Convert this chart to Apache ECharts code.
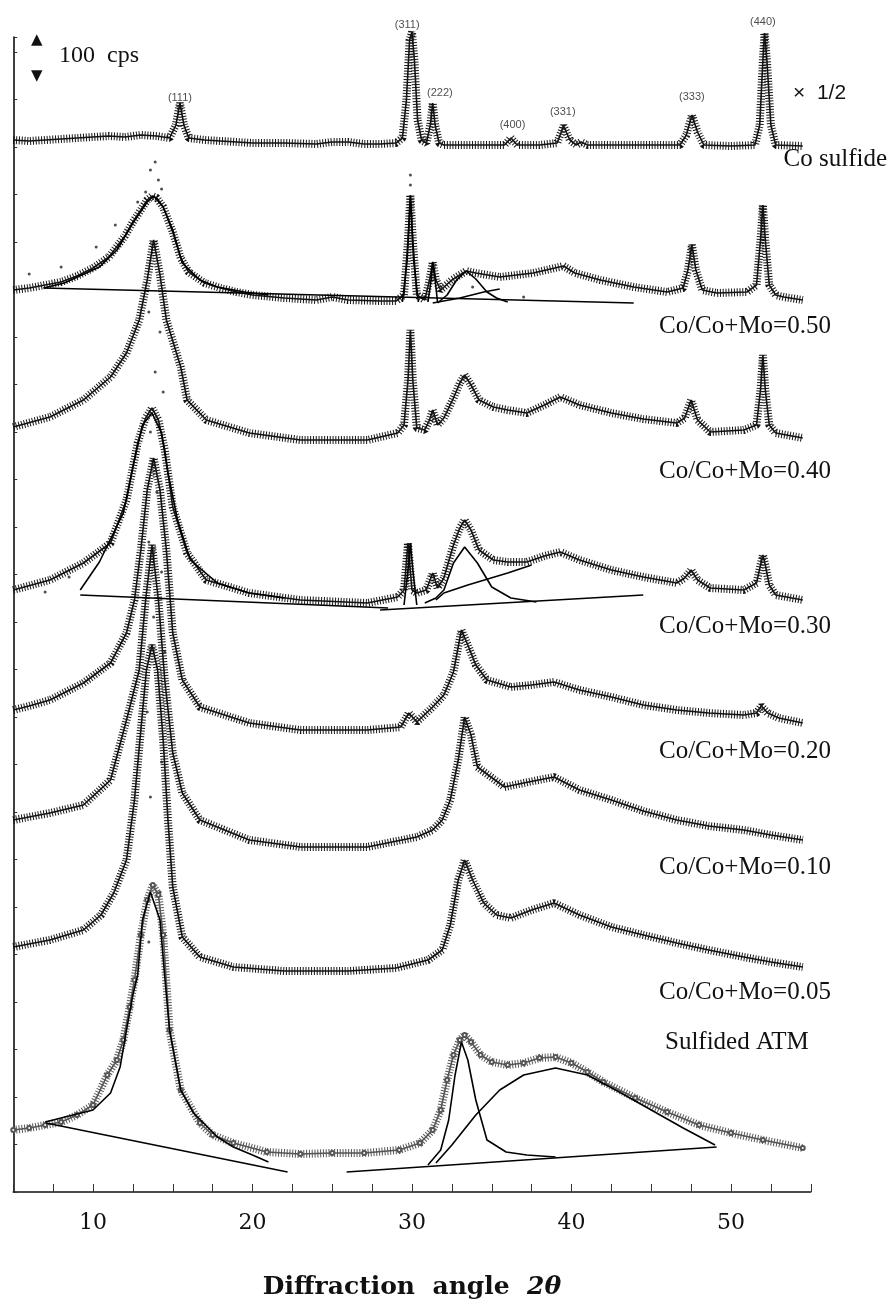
<!DOCTYPE html>
<html>
<head>
<meta charset="utf-8">
<script src="https://cdn.jsdelivr.net/npm/echarts@6/dist/echarts.min.js"></script>
<style>
  html, body { margin: 0; padding: 0; background: #fff; }
  #chart { width: 888px; height: 1302px; }
</style>
</head>
<body>
<div id="chart"></div>
<script>
// x = diffraction angle 2θ (deg), y = intensity (a.u., patterns stacked)
var coSulfide = [[5,1052],[6,1051],[7,1052],[8,1053],[9,1054],[10,1055],[11,1056],[12,1055],[13,1057],[14,1056],[14.8,1054],[15.2,1067],[15.45,1089],[15.7,1067],[16,1054],[17,1052],[18,1051],[19,1050],[20,1049],[22,1049],[24,1048],[25,1050],[26,1050],[27,1048],[28,1048],[29,1049],[29.4,1054],[29.65,1092],[29.85,1152],[30,1160],[30.15,1132],[30.35,1072],[30.6,1052],[30.9,1049],[31.15,1067],[31.3,1089],[31.45,1067],[31.7,1049],[32,1047],[34,1047],[35.8,1047],[36.2,1054],[36.6,1047],[38,1047],[39.1,1049],[39.5,1066],[39.9,1052],[40.3,1047],[40.6,1050],[41,1047],[44,1047],[46.8,1047],[47.2,1057],[47.55,1077],[47.9,1060],[48.3,1047],[50,1046],[51.5,1047],[51.8,1067],[52,1132],[52.1,1159],[52.25,1132],[52.5,1067],[52.8,1047],[54.5,1046]];

var co050 = [[5,902],[6,904],[7,907],[8,910],[9,916],[10,924],[11,935],[12,956],[12.5,970],[13,982],[13.4,992],[13.7,996],[14,994],[14.4,985],[15,960],[15.5,934],[16,920],[17,909],[18,904],[19,900],[20,897],[22,894],[24,892],[25,895],[26,892],[28,891],[29,891],[29.5,897],[29.75,952],[29.9,997],[30.05,952],[30.3,897],[30.8,892],[31.1,912],[31.3,930],[31.5,912],[31.8,902],[32.5,912],[33.4,921],[34,919],[35.5,915],[37.6,919],[39.5,926],[40.2,919],[41.8,912],[43.9,905],[46,900],[47,904],[47.3,922],[47.55,947],[47.8,922],[48.2,902],[49.1,899],[51,900],[51.6,907],[51.85,952],[52,987],[52.15,952],[52.4,907],[52.8,897],[53.3,895],[54.5,892]];

var co040 = [[5,765],[7.3,775],[9.4,792],[11.1,815],[12.1,839],[12.9,872],[13.4,912],[13.8,952],[14.2,917],[14.6,872],[15.5,825],[15.9,792],[17.1,772],[19.8,759],[23,752],[27.2,752],[29.1,759],[29.5,767],[29.75,812],[29.9,862],[30.05,812],[30.3,764],[30.8,762],[31.1,772],[31.3,782],[31.6,767],[32,774],[32.6,794],[33,809],[33.3,817],[33.7,807],[34.2,792],[35.1,785],[36,782],[37.2,779],[38.3,787],[39.3,795],[40.5,787],[42.5,779],[44.5,773],[46.6,769],[47.1,774],[47.5,792],[47.9,772],[48.7,760],[50.8,762],[51.6,767],[51.85,802],[52,837],[52.15,802],[52.4,767],[52.8,759],[54.5,754]];

var co030 = [[5,602],[7.3,612],[9.4,629],[11.1,649],[12.1,692],[12.8,749],[13.3,774],[13.7,784],[14.1,772],[14.5,742],[15,685],[15.9,639],[17.1,612],[19.8,599],[23,592],[27.2,589],[29.1,595],[29.5,602],[29.75,649],[30,602],[30.3,599],[30.9,602],[31.3,619],[31.6,604],[32,614],[32.6,647],[33,664],[33.3,672],[33.7,662],[34.2,642],[35.1,632],[36,630],[37.2,630],[38.3,636],[39.3,640],[40.5,632],[42.5,622],[44.5,615],[46.6,609],[47.1,614],[47.5,622],[47.9,612],[48.7,604],[50.8,602],[51.6,609],[51.85,627],[52,637],[52.15,627],[52.4,607],[52.8,597],[54.5,592]];

var co020 = [[5,482],[6,486],[7.3,492],[9.4,509],[11.1,529],[12.1,559],[12.6,592],[13,642],[13.4,702],[13.8,734],[14.2,702],[14.6,642],[15,559],[15.6,512],[16.7,485],[19.8,469],[23,462],[27.2,462],[29.3,465],[29.8,479],[30.3,470],[31.3,485],[32,497],[32.6,520],[33.1,562],[33.5,547],[34,527],[34.7,512],[36.2,505],[37.5,507],[38.9,510],[40.5,502],[42.5,495],[44.5,487],[46.6,482],[48.6,479],[50.8,477],[51.6,479],[51.9,486],[52.3,479],[53,474],[54.5,469]];

var co010 = [[5,372],[7.3,379],[9.4,387],[11.1,412],[12.1,472],[12.9,522],[13.3,592],[13.7,647],[14.1,592],[14.5,512],[15,439],[15.6,399],[16.7,372],[19.8,352],[23,345],[27.2,345],[30.3,355],[31.3,362],[31.9,372],[32.4,392],[32.9,432],[33.3,475],[33.7,457],[34.1,425],[35.8,405],[37.3,410],[38.9,415],[40.5,402],[42.5,392],[44.5,381],[46.6,372],[48.6,366],[50.8,362],[52.5,357],[54.5,352]];

var co005 = [[5,245],[7.3,252],[9.4,262],[10.5,277],[11.3,299],[12.1,332],[12.6,392],[13,462],[13.35,522],[13.7,547],[14.05,522],[14.4,452],[14.7,372],[15,305],[15.6,255],[16.7,235],[18.8,225],[22,221],[26,221],[29,224],[31,232],[31.9,242],[32.4,267],[32.9,312],[33.3,332],[33.8,312],[34.5,289],[35.3,277],[36.2,274],[37.5,282],[38.9,289],[40.5,277],[42.5,265],[44.5,257],[46.6,249],[48.6,242],[50.8,235],[52.5,230],[54.5,225]];

var atm = [[5,62],[6,64],[7,67],[8,70],[9,77],[10,87],[10.9,117],[11.5,132],[11.9,152],[12.3,185],[12.6,212],[13,257],[13.4,292],[13.75,307],[14.1,297],[14.4,257],[14.8,162],[15.5,102],[16.7,69],[17.5,57],[18.8,49],[20.9,40],[23,38],[25,39],[27,39],[29.2,42],[30.5,49],[31.3,62],[31.8,82],[32.2,112],[32.6,137],[33,152],[33.3,157],[33.7,150],[34.3,137],[35,130],[36,127],[37,129],[38,134],[39,135],[40,129],[41,120],[42,110],[44,94],[46,80],[48,67],[50,59],[52,52],[54.5,44]];

// fitted components and backgrounds
var fit050 = [
  [[6.9,904],[43.9,889]],
  [[6.9,904],[8.2,909],[10.4,925],[11.5,942],[12.5,969],[13.4,990],[13.8,996],[14.4,985],[15,962],[15.6,929],[16.7,912],[17.8,905],[19.5,900],[21,897]],
  [[29.4,890],[29.7,932],[29.9,996],[30.1,932],[30.4,890]],
  [[31,890],[31.2,912],[31.3,930],[31.45,912],[31.6,890]],
  [[31.6,889],[32.2,897],[32.8,912],[33.4,921],[34,913],[34.7,900],[35.3,894],[36,890]],
  [[31.3,889],[33,894],[34.5,900],[35.5,903]]
];
var fit030 = [
  [[9.2,597],[28.5,584]],
  [[28,582],[44.5,597]],
  [[9.2,602],[10.4,630],[11.9,679],[12.5,725],[13.1,767],[13.7,779],[14.3,759],[14.7,719],[15.3,672],[16.1,632],[17.8,609],[19.8,599],[22,594]],
  [[29.5,587],[29.75,622],[29.9,649],[30.05,622],[30.3,587]],
  [[30.8,589],[31.5,594],[32,602],[32.6,629],[33.3,645],[34.1,629],[35,605],[36.2,594],[37.8,590]],
  [[31.5,592],[32,599],[33.5,607],[36,619],[37.5,627]]
];
var fitAtm = [
  [[7.05,69],[22.2,20]],
  [[25.9,20],[49.1,45]],
  [[7,70],[8.5,76],[10,82],[11.1,99],[11.7,125],[12.1,162],[12.5,197],[12.8,217],[13.1,272],[13.6,300],[14.2,272],[14.5,215],[14.8,162],[15.5,102],[16.3,79],[17.8,55],[18.8,45],[20,37],[21,30]],
  [[31,27],[31.8,42],[32.3,72],[32.7,117],[33.1,150],[33.5,132],[34,92],[34.7,52],[35.9,40],[37.2,37],[39,35]],
  [[31.5,29],[32.5,47],[34,77],[35.5,102],[37,117],[39,124],[41,117],[43,100],[45,82],[47,64],[49,47]]
];

// stray counts standing off the bands
var strays = [[13.3,1000],[13.6,1022],[13.9,1030],[14.1,1012],[14.3,1003],[12.8,990],[11.4,967],[10.2,945],[29.9,1017],[29.9,1007],[13.5,880],[14.2,860],[13.9,820],[14.4,800],[13.6,760],[14.0,700],[13.5,650],[14.3,620],[13.8,575],[14.5,540],[13.4,480],[14.3,430],[13.6,395],[14.2,300],[13.5,250],[33.8,905],[37,895],[6,918],[8,925],[7,600],[8.5,615]];

var hklNames = ['(111)', '(311)', '(222)', '(400)', '(331)', '(333)', '(440)'];
var hklPos = [[15.45,1094],[29.7,1167],[31.75,1099],[36.3,1067],[39.45,1080],[47.55,1095],[52.0,1170]];

var sampleNames = ['Co sulfide', 'Co/Co+Mo=0.50', 'Co/Co+Mo=0.40', 'Co/Co+Mo=0.30', 'Co/Co+Mo=0.20', 'Co/Co+Mo=0.10', 'Co/Co+Mo=0.05', 'Sulfided ATM'];
var xTicks = [10, 20, 30, 40, 50];

var patterns = [coSulfide, co050, co040, co030, co020, co010, co005];

var series = [];
function band(data, color, dots) {
  series.push({
    type: 'line', data: data, showSymbol: false, clip: false, silent: true,
    lineStyle: { width: 8, color: color, type: [1, 1.8] }
  });
  series.push({
    type: 'line', data: data, showSymbol: !!dots, symbol: 'emptyCircle', symbolSize: 4,
    clip: false, silent: true,
    itemStyle: { color: color, borderWidth: 1 },
    lineStyle: { width: 1.6, color: color }
  });
}
patterns.forEach(function (p) { band(p, '#141414'); });
band(atm, '#555', true);

[fit050, fit030, fitAtm].forEach(function (set) {
  set.forEach(function (seg) {
    series.push({
      type: 'line', data: seg, showSymbol: false, silent: true, z: 5,
      lineStyle: { width: 1.6, color: '#000' }
    });
  });
});

series.push({
  type: 'scatter', data: strays, symbolSize: 3, silent: true, clip: false,
  itemStyle: { color: '#222' }
});

series.push({
  type: 'scatter', symbolSize: 0, silent: true, clip: false,
  data: hklPos.map(function (p, i) { return { value: p, name: hklNames[i] }; }),
  label: {
    show: true, position: 'inside', formatter: '{b}',
    fontFamily: 'Liberation Sans', fontSize: 11, color: '#222'
  }
});

var serif = '"Liberation Serif", "DejaVu Serif", serif';
var nameY = [160, 327, 472, 627, 752, 868, 993, 1043];
var graphics = sampleNames.map(function (t, i) {
  var first = i === 0;
  return {
    type: 'text', z: 10,
    left: first ? null : (i === 7 ? 665 : 659),
    right: first ? 1 : null,
    top: nameY[i] - 13,
    style: { text: t, font: '25px ' + serif, fill: '#111' }
  };
});
graphics.push(
  { type: 'text', left: 31, top: 33, style: { text: '▲', font: '15px "DejaVu Sans"', fill: '#111' } },
  { type: 'text', left: 31, top: 69, style: { text: '▼', font: '15px "DejaVu Sans"', fill: '#111' } },
  { type: 'text', left: 59, top: 44, style: { text: '100  cps', font: '24px ' + serif, fill: '#111' } },
  { type: 'text', left: 793, top: 83, style: { text: '×  1/2', font: '21px "Liberation Sans"', fill: '#111' } },
  {
    type: 'text', x: 412, y: 1287,
    style: {
      text: '{a|Diffraction  angle  }{b|2θ}',
      align: 'center', verticalAlign: 'middle',
      rich: {
        a: { font: 'bold 25px "DejaVu Serif", serif', fill: '#111' },
        b: { font: 'italic bold 25px "DejaVu Serif", serif', fill: '#111' }
      }
    }
  }
);

var chart = echarts.init(document.getElementById('chart'), null, { renderer: 'canvas' });
chart.setOption({
  animation: false,
  backgroundColor: '#fff',
  grid: { left: 13.25, right: 77.25, top: 37, bottom: 110 },
  xAxis: {
    type: 'value', min: 5, max: 55, interval: 2.5,
    axisLine: { lineStyle: { color: '#111', width: 1.6 } },
    axisTick: { inside: true, length: 8, lineStyle: { color: '#333', width: 1 } },
    splitLine: { show: false },
    axisLabel: {
      margin: 20, fontSize: 22, color: '#111', fontFamily: '"DejaVu Serif", serif',
      formatter: function (v) { return xTicks.indexOf(v) >= 0 ? String(v) : ''; }
    }
  },
  yAxis: {
    type: 'value', min: 0, max: 1155, interval: 47.5,
    axisLine: { show: true, lineStyle: { color: '#111', width: 1.6 } },
    axisTick: { show: true, inside: true, length: 4, lineStyle: { color: '#333' } },
    axisLabel: { show: false },
    splitLine: { show: false }
  },
  graphic: graphics,
  series: series
});
</script>
</body>
</html>
